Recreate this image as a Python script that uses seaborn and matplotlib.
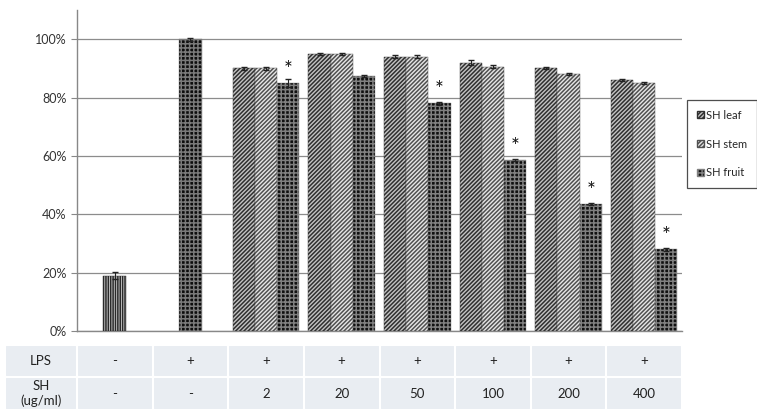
import matplotlib
matplotlib.use("Agg")
import matplotlib.pyplot as plt
import seaborn as sns
import pandas as pd
from matplotlib.patches import Patch

sns.set_style("white")
plt.rcParams['font.family'] = ['Lato', 'DejaVu Sans']
plt.rcParams['hatch.linewidth'] = 1.1

groups = ["ctrl", "lps", "2", "20", "50", "100", "200", "400"]
single_groups = ["ctrl", "lps"]
single_values = [19, 100]
single_err = [1.2, 0.5]

dose_groups = ["2", "20", "50", "100", "200", "400"]
series = ["SH leaf", "SH stem", "SH fruit"]
leaf = [90, 95, 94, 92, 90, 86]
stem = [90, 95, 94, 90.5, 88, 85]
fruit = [85, 87.5, 78, 58.5, 43.5, 28]
leaf_err = [0.5, 0.4, 0.6, 0.7, 0.3, 0.3]
stem_err = [0.5, 0.4, 0.6, 0.5, 0.4, 0.3]
fruit_err = [1.5, 0.3, 0.4, 0.4, 0.4, 0.6]
signif = [True, False, True, True, True, True]

lps_row = ["-", "+", "+", "+", "+", "+", "+", "+"]
sh_row = ["-", "-", "2", "20", "50", "100", "200", "400"]
yticks = [0, 20, 40, 60, 80, 100]

fig = plt.figure(figsize=(7.57, 4.12), dpi=100)
ax = fig.add_axes([77/757, 1-331/412, 605/757, 321/412])

df1 = pd.DataFrame({"group": single_groups, "value": single_values})
sns.barplot(data=df1, x="group", y="value", order=groups, width=0.3,
            errorbar=None, ax=ax, color="white", zorder=3)

rows = []
for s, vals in zip(series, [leaf, stem, fruit]):
    for g, v in zip(dose_groups, vals):
        rows.append({"group": g, "series": s, "value": v})
df2 = pd.DataFrame(rows)
sns.barplot(data=df2, x="group", y="value", hue="series", order=groups,
            hue_order=series, width=0.88, errorbar=None, ax=ax,
            palette=["white", "white", "white"], legend=False, zorder=3)

styles = {
    "ctrl": dict(fc="#cfcfcf", ec="#2a2a2a", hatch="|||||||"),
    "lps": dict(fc="#0d0d0d", ec="#7a7a7a", hatch="++++"),
    "SH leaf": dict(fc="#c4c4c4", ec="#303030", hatch="////////"),
    "SH stem": dict(fc="#e6e6e6", ec="#505050", hatch="////////"),
    "SH fruit": dict(fc="#101010", ec="#808080", hatch="++++"),
}

bars = [p for p in ax.patches if p.get_height() > 0]
bars.sort(key=lambda p: p.get_x())
single_bars = bars[:2]
multi_bars = bars[2:]
for p, g in zip(single_bars, single_groups):
    st = styles[g]
    p.set_facecolor(st["fc"]); p.set_edgecolor(st["ec"]); p.set_hatch(st["hatch"]); p.set_linewidth(0.3)
for p, e in zip(single_bars, single_err):
    cx = p.get_x() + p.get_width()/2
    ax.errorbar(cx, p.get_height(), yerr=e, color="#222222", capsize=2, lw=0.8, zorder=4)

errs_all = [leaf_err, stem_err, fruit_err]
for i, p in enumerate(multi_bars):
    gi, si = divmod(i, 3)
    st = styles[series[si]]
    p.set_facecolor(st["fc"]); p.set_edgecolor(st["ec"]); p.set_hatch(st["hatch"]); p.set_linewidth(0.3)
    cx = p.get_x() + p.get_width()/2
    ax.errorbar(cx, p.get_height(), yerr=errs_all[si][gi], color="#222222", capsize=2, lw=0.8, zorder=4)
    if si == 2 and signif[gi]:
        ax.text(cx, p.get_height() + 1.0, "*", ha="center", va="bottom", fontsize=15, color="#111111")

ax.set_ylim(0, 110)
ax.set_xlim(-0.5, len(groups) - 0.5)
ax.set_yticks(yticks)
ax.set_yticklabels([f"{v}%" for v in yticks], fontsize=9, color="#333333")
ax.yaxis.grid(True, color="#8c8c8c", lw=0.9, zorder=0)
ax.set_axisbelow(True)
ax.set_xticks([i - 0.5 for i in range(len(groups) + 1)])
ax.set_xticklabels([])
ax.tick_params(axis="x", length=4, color="#888888", direction="out")
ax.tick_params(axis="y", length=4, color="#888888", direction="out", left=True)
ax.set_xlabel(""); ax.set_ylabel("")
for side in ["top", "right"]:
    ax.spines[side].set_visible(False)
for side in ["left", "bottom"]:
    ax.spines[side].set_color("#888888")
    ax.spines[side].set_linewidth(1)

handles = [Patch(facecolor=styles[s]["fc"], edgecolor=styles[s]["ec"], hatch=styles[s]["hatch"], label=s)
           for s in series]
leg = ax.legend(handles=handles, loc="upper left", bbox_to_anchor=(1.008, 0.72),
                fontsize=8, frameon=True, fancybox=False, handlelength=0.6, handleheight=0.6,
                handletextpad=0.25, labelspacing=1.6, borderpad=0.9, borderaxespad=0.0,
                edgecolor="#222222")
leg.get_frame().set_linewidth(0.9)

cell_text = [lps_row, sh_row]
row_labels = ["LPS", "SH\n(ug/ml)"]
full = [[row_labels[r]] + cell_text[r] for r in range(2)]
tbl = ax.table(cellText=full, bbox=[-0.119, -0.246, 1.119, 0.2025],
               colWidths=[0.119] + [0.125]*len(groups), cellLoc="center")
tbl.auto_set_font_size(False)
for (r, c), cell in tbl.get_celld().items():
    cell.set_facecolor("#e9edf2")
    cell.set_edgecolor("white")
    cell.set_linewidth(1.5)
    cell.get_text().set_fontsize(9.5)
    cell.get_text().set_color("#222222")

fig.savefig("out.png", dpi=100)
